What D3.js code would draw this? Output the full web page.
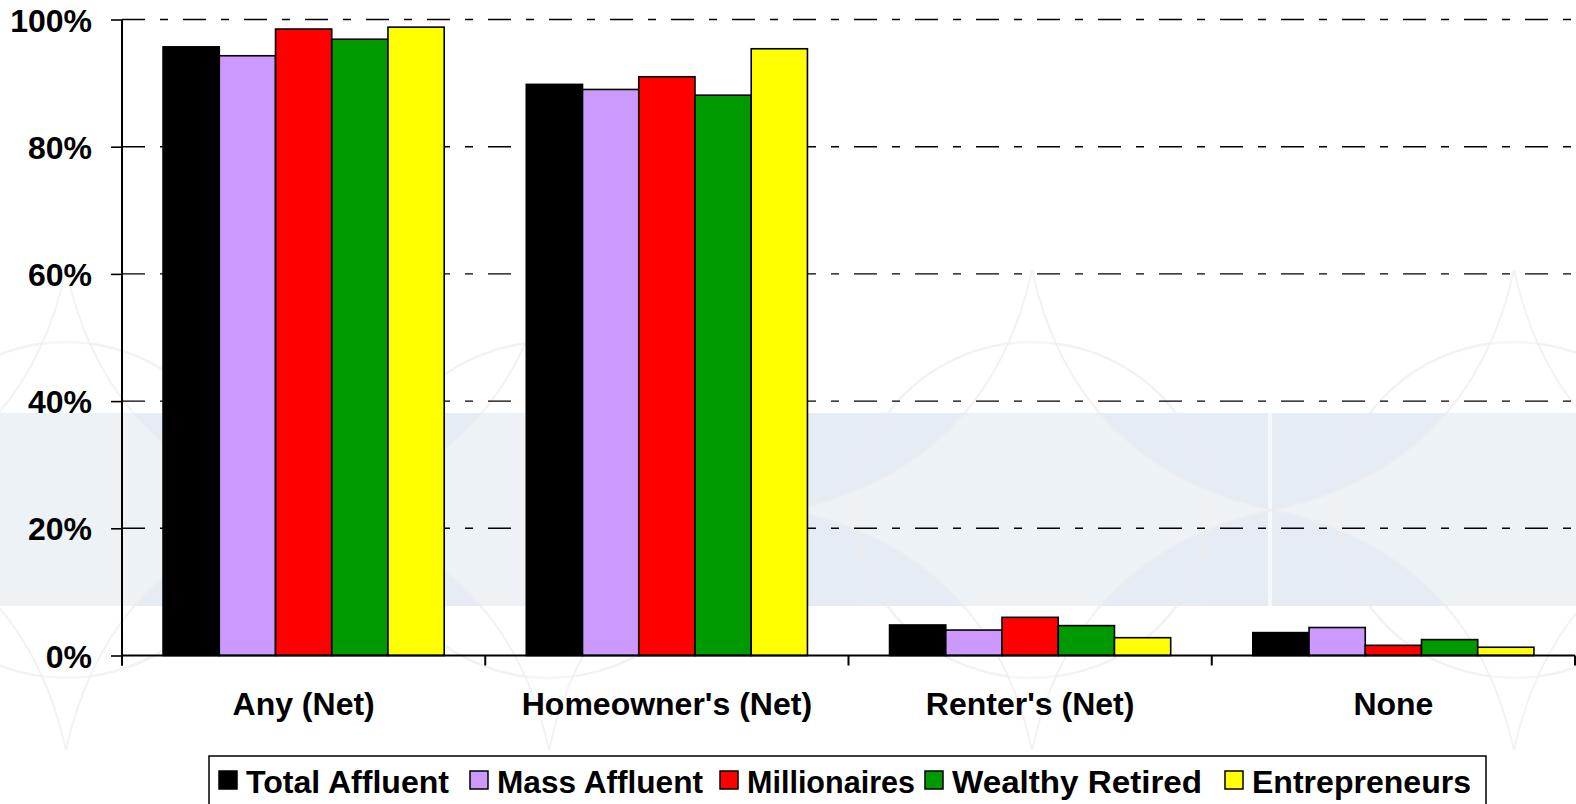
<!DOCTYPE html>
<html>
<head>
<meta charset="utf-8">
<script src="https://cdn.jsdelivr.net/npm/d3@7"></script>
<style>
  html, body { margin: 0; padding: 0; background: #ffffff; }
  svg { display: block; }
  text { font-family: "Liberation Sans", Arial, sans-serif; font-weight: bold; fill: #000; }
</style>
</head>
<body>
<svg id="chart" width="1576" height="804"></svg>
<script>
const categories = ["Any (Net)", "Homeowner's (Net)", "Renter's (Net)", "None"];
const seriesNames = ["Total Affluent", "Mass Affluent", "Millionaires", "Wealthy Retired", "Entrepreneurs"];
const seriesColors = ["#000000", "#cc99ff", "#ff0000", "#009900", "#ffff00"];
const totalAffluent  = [95.7, 89.8, 4.8, 3.6];
const massAffluent   = [94.3, 89.0, 4.0, 4.4];
const millionaires   = [98.5, 91.0, 6.0, 1.6];
const wealthyRetired = [96.9, 88.1, 4.7, 2.5];
const entrepreneurs  = [98.8, 95.4, 2.8, 1.3];
const yTicks = [0, 20, 40, 60, 80, 100];
const yTickLabels = ["0%", "20%", "40%", "60%", "80%", "100%"];

const seriesValues = [totalAffluent, massAffluent, millionaires, wealthyRetired, entrepreneurs];

(function draw() {
const svg = d3.select("#chart");
const W = 1576, H = 804;
const mLeft = 122, mRight = 1575, mTop = 19.5, mBottom = 655.5;
const FS = 32;

// ---- faint background watermark ----
const bg = svg.append("g");
bg.append("rect").attr("x", 0).attr("y", 413).attr("width", W).attr("height", 193)
  .attr("fill", "#e6ecf4");
bg.append("rect").attr("x", 1268).attr("y", 413).attr("width", 4).attr("height", 193)
  .attr("fill", "#f6f8fb");
const starCenters = [66, 549, 1032, 1514];
starCenters.forEach(cx => {
  const cy = 510;
  bg.append("ellipse").attr("cx", cx).attr("cy", cy).attr("rx", 176).attr("ry", 168)
    .attr("fill", "none").attr("stroke", "#ececec").attr("stroke-width", 2.5).attr("opacity", 0.7);
  const t = 240, s = 240, k = 0.18;
  const p = d3.path();
  p.moveTo(cx, cy - t);
  p.quadraticCurveTo(cx + s * k, cy - t * k, cx + s, cy);
  p.quadraticCurveTo(cx + s * k, cy + t * k, cx, cy + t);
  p.quadraticCurveTo(cx - s * k, cy + t * k, cx - s, cy);
  p.quadraticCurveTo(cx - s * k, cy - t * k, cx, cy - t);
  bg.append("path").attr("d", p.toString()).attr("fill", "#ffffff").attr("fill-opacity", 0.3)
    .attr("stroke", "#ececec").attr("stroke-width", 2).attr("stroke-opacity", 0.7);
});

// ---- scales ----
const x0 = d3.scaleBand().domain(categories).range([mLeft, mRight]).padding(0);
const x1 = d3.scaleBand().domain(seriesNames).range([0, x0.bandwidth()]).paddingInner(0).paddingOuter(0.73);
const y = d3.scaleLinear().domain([0, 100]).range([mBottom, mTop]);
const color = d3.scaleOrdinal().domain(seriesNames).range(seriesColors);

// ---- gridlines ----
svg.append("g").selectAll("line").data(yTicks.filter(d => d > 0)).join("line")
  .attr("x1", mLeft).attr("x2", mRight)
  .attr("y1", d => y(d)).attr("y2", d => y(d))
  .attr("stroke", "#000").attr("stroke-width", 1.4)
  .attr("stroke-dasharray", "23,15,8,15");

// ---- bars ----
const groups = svg.append("g").selectAll("g").data(categories).join("g")
  .attr("transform", d => `translate(${x0(d)},0)`);
groups.selectAll("rect")
  .data((c, ci) => seriesNames.map((s, si) => ({ s, v: seriesValues[si][ci] })))
  .join("rect")
  .attr("x", d => x1(d.s))
  .attr("width", x1.bandwidth())
  .attr("y", d => y(d.v))
  .attr("height", d => y(0) - y(d.v))
  .attr("fill", d => color(d.s))
  .attr("stroke", "#000").attr("stroke-width", 1.6);

// ---- y axis ----
const yAxis = d3.axisLeft(y).tickValues(yTicks).tickSize(11).tickPadding(19)
  .tickFormat((d, i) => yTickLabels[i]);
const gy = svg.append("g").attr("transform", `translate(${mLeft},0)`).call(yAxis);
gy.select(".domain").remove();
gy.selectAll(".tick line").attr("stroke", "#000").attr("stroke-width", 1.6);
gy.selectAll(".tick text").attr("font-size", FS).attr("font-family", "Liberation Sans, Arial, sans-serif")
  .attr("font-weight", "bold").attr("fill", "#000").attr("dy", "0.36em");
svg.append("line").attr("x1", mLeft).attr("x2", mLeft).attr("y1", mTop).attr("y2", mBottom + 10)
  .attr("stroke", "#000").attr("stroke-width", 2);

// ---- x axis ----
svg.append("line").attr("x1", mLeft).attr("x2", mRight).attr("y1", mBottom).attr("y2", mBottom)
  .attr("stroke", "#000").attr("stroke-width", 2);
const boundaries = categories.map(c => x0(c)).concat([mRight]);
svg.append("g").selectAll("line").data(boundaries).join("line")
  .attr("x1", d => d).attr("x2", d => d).attr("y1", mBottom).attr("y2", mBottom + 10)
  .attr("stroke", "#000").attr("stroke-width", 2);
svg.append("g").selectAll("text").data(categories).join("text")
  .attr("x", d => x0(d) + x0.bandwidth() / 2).attr("y", 715)
  .attr("text-anchor", "middle").attr("font-size", FS)
  .text(d => d);

// ---- legend ----
const lg = svg.append("g");
lg.append("rect").attr("x", 209).attr("y", 756).attr("width", 1277).attr("height", 70)
  .attr("fill", "#fff").attr("stroke", "#000").attr("stroke-width", 1.5);
const legendX = [219, 470, 720, 925, 1225];
const legendTextW = [203, 206, 168, 250, 219];
seriesNames.forEach((s, i) => {
  const lx = legendX[i];
  lg.append("rect").attr("x", lx).attr("y", 771).attr("width", 18).attr("height", 18)
    .attr("fill", seriesColors[i]).attr("stroke", "#000").attr("stroke-width", 1.5);
  lg.append("text").attr("x", lx + 27).attr("y", 793).attr("font-size", FS)
    .attr("textLength", legendTextW[i]).attr("lengthAdjust", "spacingAndGlyphs").text(s);
});
})();
</script>
</body>
</html>
